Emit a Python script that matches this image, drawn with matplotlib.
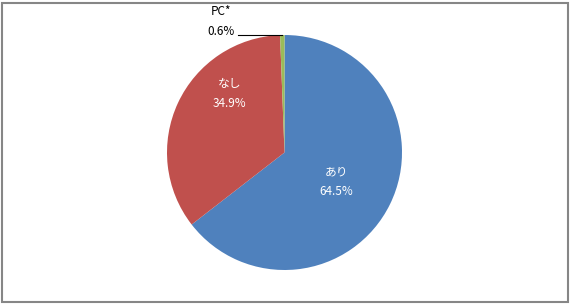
import matplotlib.pyplot as plt
from matplotlib.patches import Rectangle
import numpy as np

plt.rcParams['font.family'] = ['Noto Sans CJK JP', 'DejaVu Sans']

labels = ['あり', 'なし', 'PC*']
values = [64.5, 34.9, 0.6]
colors = ['#4F81BD', '#C0504D', '#9BBB59']
text_colors = ['white', 'white', 'black']

W, H = 570, 304
fig = plt.figure(figsize=(W / 100, H / 100), dpi=100)

# chart frame
fig.patches.append(Rectangle((1.5 / W, 2.5 / H), 566 / W, 299 / H, transform=fig.transFigure,
                             fill=False, edgecolor='#868686', linewidth=1.5))

cx, cy, r = 284.5, 152.5, 117.5
ax = fig.add_axes([(cx - r) / W, (H - cy - r) / H, 2 * r / W, 2 * r / H])
ax.pie(values, colors=colors, startangle=90, counterclock=False, radius=1,
       wedgeprops=dict(linewidth=0))
ax.set_xlim(-1, 1)
ax.set_ylim(-1, 1)
ax.set_aspect('equal')
ax.axis('off')

# label positions (relative to pie radius)
label_pos = [(0.44, -0.25), (-0.47, 0.50), (-0.54, 1.115)]
for name, v, (lx, ly), tc in zip(labels, values, label_pos, text_colors):
    ax.text(lx, ly, f"{name}\n{v}%", ha='center', va='center', color=tc,
            fontsize=8.5, linespacing=1.7, clip_on=False)

# leader line for the small slice
ax.plot([-0.40, -0.02], [1.0, 1.0], color='black', linewidth=0.8, clip_on=False)

fig.savefig('out.png', dpi=100)
